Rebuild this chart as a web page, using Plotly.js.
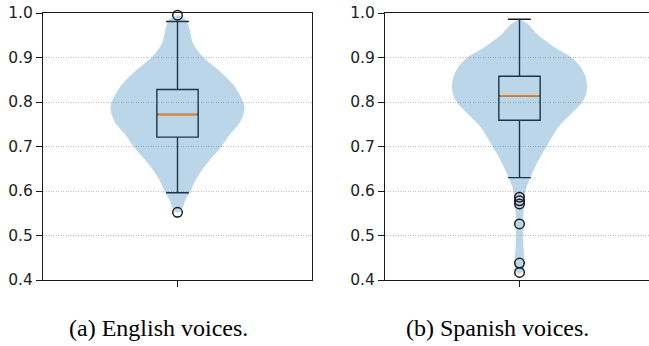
<!DOCTYPE html>
<html>
<head>
<meta charset="utf-8">
<script src="https://cdn.plot.ly/plotly-3.0.1.min.js"></script>
<style>html,body{margin:0;padding:0;overflow:hidden;background:#fff;}#chart{width:660px;height:346px;}</style>
</head>
<body>
<div id="chart"></div>
<script>
// ---- Data ----
const captions = ["(a) English voices.", "(b) Spanish voices."];
const yTicks = [0.4, 0.5, 0.6, 0.7, 0.8, 0.9, 1.0];

// Violin outline (value levels and half-width density, arbitrary units)
const enViolinY = [0.551, 0.558, 0.568, 0.580, 0.600, 0.620, 0.639, 0.669, 0.700, 0.729, 0.752, 0.785, 0.804, 0.825, 0.841, 0.862, 0.879, 0.900, 0.916, 0.935, 0.954, 0.972, 0.986, 0.995];
const enViolinD = [0, 4, 6, 8, 13, 17, 22, 32, 44, 53, 62, 67, 65, 60, 55, 46, 37, 26, 20, 15, 13, 11, 8, 0];
const esViolinY = [0.414, 0.422, 0.440, 0.470, 0.500, 0.530, 0.566, 0.600, 0.631, 0.669, 0.700, 0.744, 0.774, 0.804, 0.830, 0.856, 0.879, 0.900, 0.915, 0.931, 0.954, 0.976, 0.986];
const esViolinD = [0, 4, 5, 4, 3.5, 3.5, 4.5, 6, 11, 19, 27, 39, 52, 64, 67.5, 66, 61, 52, 41, 30, 17, 8, 0];

// Box statistics
const enStats = {q1: 0.721, median: 0.772, q3: 0.828, low: 0.596, high: 0.981};
const esStats = {q1: 0.759, median: 0.814, q3: 0.858, low: 0.630, high: 0.986};

// Outliers
const enOutliers = [0.995, 0.552];
const esOutliers = [0.586, 0.578, 0.571, 0.526, 0.438, 0.417];

// ---- Drawing ----
const W = 660, H = 346;
const center = 1;
const densScale = 1 / 134.5;   // density units -> x data units
const boxWidth = 0.307;
const violinFill = 'rgba(31,119,180,0.3)';
const ink = '#1a1a1a';

function violinTrace(ys, ds, xa, ya) {
  const xs = [], yy = [];
  for (let i = 0; i < ys.length; i++) { xs.push(center + ds[i] * densScale); yy.push(ys[i]); }
  for (let i = ys.length - 1; i >= 0; i--) { xs.push(center - ds[i] * densScale); yy.push(ys[i]); }
  return {type: 'scatter', mode: 'lines', x: xs, y: yy, fill: 'toself', fillcolor: violinFill,
          line: {width: 0, shape: 'spline', smoothing: 1}, xaxis: xa, yaxis: ya, hoverinfo: 'skip', showlegend: false};
}
function boxTrace(s, xa, ya) {
  return {type: 'box', orientation: 'v', x: [center], q1: [s.q1], median: [s.median], q3: [s.q3],
          lowerfence: [s.low], upperfence: [s.high], width: boxWidth, whiskerwidth: 0.55,
          line: {color: ink, width: 1.4}, fillcolor: 'rgba(0,0,0,0)', boxpoints: false,
          xaxis: xa, yaxis: ya, hoverinfo: 'skip', showlegend: false};
}
function medianTrace(s, xa, ya) {
  return {type: 'scatter', mode: 'lines', x: [center - boxWidth / 2 + 0.008, center + boxWidth / 2 - 0.008], y: [s.median, s.median],
          line: {color: '#ff7f0e', width: 1.6}, xaxis: xa, yaxis: ya, hoverinfo: 'skip', showlegend: false};
}
function outlierTrace(vals, xa, ya) {
  return {type: 'scatter', mode: 'markers', x: vals.map(() => center), y: vals,
          marker: {symbol: 'circle-open', size: 9.5, color: ink, line: {width: 1.5, color: ink}},
          xaxis: xa, yaxis: ya, hoverinfo: 'skip', showlegend: false, cliponaxis: false};
}

const data = [
  violinTrace(enViolinY, enViolinD, 'x', 'y'),
  boxTrace(enStats, 'x', 'y'),
  medianTrace(enStats, 'x', 'y'),
  outlierTrace(enOutliers, 'x', 'y'),
  violinTrace(esViolinY, esViolinD, 'x2', 'y2'),
  boxTrace(esStats, 'x2', 'y2'),
  medianTrace(esStats, 'x2', 'y2'),
  outlierTrace(esOutliers, 'x2', 'y2')
];

const yDomain = [(H - 280) / H, (H - 13) / H];
function xAxis(dom, anchor) {
  return {domain: dom, anchor: anchor, range: [0, 2], showgrid: false, zeroline: false,
          showline: true, mirror: true, linecolor: ink, linewidth: 1,
          ticks: 'outside', ticklen: 6, tickwidth: 1, tickcolor: ink,
          tickvals: [center], ticktext: [''], showticklabels: false, fixedrange: true};
}
function yAxis(anchor) {
  return {domain: yDomain, anchor: anchor, range: [0.4, 1.0], tickvals: yTicks, tickformat: '.1f',
          showgrid: true, gridcolor: '#a8a8a8', gridwidth: 0.7, griddash: '1px,1.5px', zeroline: false,
          showline: true, mirror: true, linecolor: ink, linewidth: 1,
          ticks: 'outside', ticklen: 6, tickwidth: 1, tickcolor: ink,
          tickfont: {family: 'DejaVu Sans', size: 15.5, color: '#222'}, fixedrange: true};
}

const layout = {
  width: W, height: H,
  margin: {l: 0, r: 0, t: 0, b: 0, pad: 0},
  paper_bgcolor: '#fff', plot_bgcolor: '#fff',
  showlegend: false,
  xaxis: xAxis([43 / W, 312 / W], 'y'),
  yaxis: yAxis('x'),
  xaxis2: xAxis([385 / W, 654 / W], 'y2'),
  yaxis2: yAxis('x2'),
  annotations: [
    {text: captions[0], xref: 'paper', yref: 'paper', x: 158 / W, y: (H - 328) / H, xanchor: 'center', yanchor: 'middle',
     showarrow: false, font: {family: 'Liberation Serif', size: 24, color: '#000'}},
    {text: captions[1], xref: 'paper', yref: 'paper', x: 497 / W, y: (H - 328) / H, xanchor: 'center', yanchor: 'middle',
     showarrow: false, font: {family: 'Liberation Serif', size: 24, color: '#000'}}
  ]
};

Plotly.newPlot('chart', data, layout, {displayModeBar: false, staticPlot: true});
</script>
</body>
</html>
